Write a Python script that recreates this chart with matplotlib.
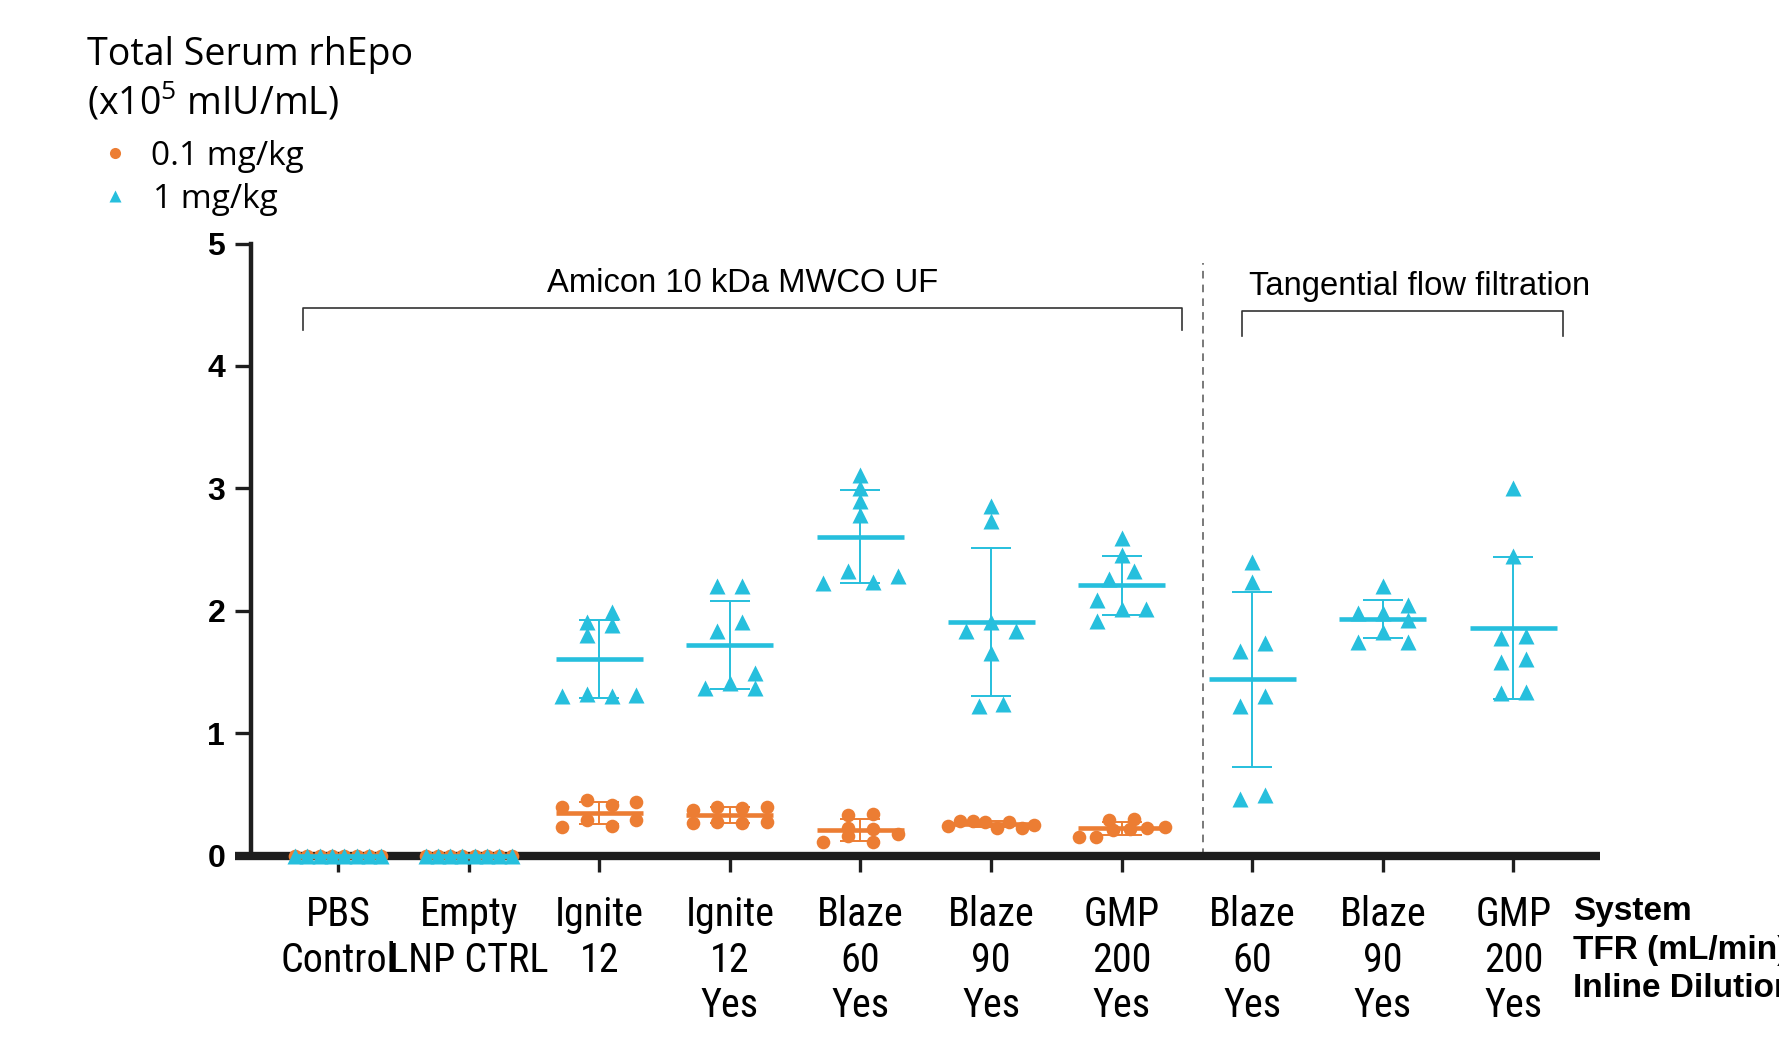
import os
import numpy as np
import matplotlib
matplotlib.use("Agg")
import matplotlib.pyplot as plt
from matplotlib import font_manager
from matplotlib.lines import Line2D
from matplotlib.textpath import TextPath

# ---------------- data ----------------
categories = ["PBS\nControl", "Empty\nLNP CTRL", "Ignite\n12", "Ignite\n12\nYes",
              "Blaze\n60\nYes", "Blaze\n90\nYes", "GMP\n200\nYes",
              "Blaze\n60\nYes", "Blaze\n90\nYes", "GMP\n200\nYes"]

low_dose = [  # 0.1 mg/kg
    [0, 0, 0, 0, 0, 0, 0, 0],
    [0, 0, 0, 0, 0, 0, 0, 0],
    [0.236, 0.29, 0.241, 0.29, 0.399, 0.454, 0.413, 0.44],
    [0.263, 0.276, 0.263, 0.276, 0.372, 0.399, 0.386, 0.399],
    [0.113, 0.16, 0.113, 0.176, 0.222, 0.215, 0.331, 0.339],
    [0.241, 0.282, 0.282, 0.276, 0.222, 0.276, 0.222, 0.249],
    [0.154, 0.154, 0.21, 0.215, 0.222, 0.23, 0.29, 0.295],
]
high_dose = [  # 1 mg/kg
    [0, 0, 0, 0, 0, 0, 0, 0],
    [0, 0, 0, 0, 0, 0, 0, 0],
    [1.30, 1.32, 1.30, 1.31, 1.80, 1.885, 1.91, 1.99],
    [1.367, 1.408, 1.367, 1.49, 1.838, 1.909, 2.198, 2.198],
    [2.226, 2.321, 2.231, 2.28, 2.784, 2.893, 3.002, 3.111],
    [1.222, 1.236, 1.653, 1.838, 1.904, 1.838, 2.735, 2.852],
    [1.917, 2.013, 2.013, 2.089, 2.258, 2.321, 2.457, 2.594],
    [0.459, 0.495, 1.222, 1.304, 1.667, 1.735, 2.231, 2.394],
    [1.748, 1.83, 1.748, 1.98, 1.98, 1.926, 2.048, 2.204],
    [1.326, 1.339, 1.577, 1.604, 1.776, 1.795, 2.443, 3.002],
]
yticks = [0, 1, 2, 3, 4, 5]
group1_label = "Amicon 10 kDa MWCO UF"
group2_label = "Tangential flow filtration"
row_labels = ["System", "TFR (mL/min)", "Inline Dilution"]
legend_labels = ["0.1 mg/kg", "1 mg/kg"]

ORANGE = "#EC7D33"
CYAN = "#26BFDD"
AXC = "#1e1e1e"

# ---------------- fonts ----------------
def has_font(name):
    try:
        font_manager.findfont(font_manager.FontProperties(family=name), fallback_to_default=False)
        return True
    except Exception:
        return False

arial = "Liberation Sans" if has_font("Liberation Sans") else "DejaVu Sans"
segoe = "Open Sans" if has_font("Open Sans") else "DejaVu Sans"

def find_condensed():
    bad = ["bold", "light", "thin", "black", "semi", "medium", "extra", "italic", "oblique", "heavy"]
    found = {}
    for f in font_manager.fontManager.ttflist:
        fn = os.path.basename(f.fname).lower()
        if ("condensed" in fn or "narrow" in fn) and not any(b in fn.replace("condensed", "").replace("narrow", "") for b in bad):
            found[fn] = f.fname
    prefs = ["liberationsansnarrow", "notosans", "opensans", "roboto", "lato", "inter", "dejavusans"]
    for p in prefs:
        for fn, path in sorted(found.items()):
            if fn.replace("-", "").replace("_", "").startswith(p):
                return font_manager.FontProperties(fname=path)
    if found:
        return font_manager.FontProperties(fname=sorted(found.values())[0])
    return font_manager.FontProperties(family="DejaVu Sans", stretch="condensed")

cat_fp = find_condensed()
# size so that "Blaze" is about 80 px wide (condensed face like the reference)
w1 = TextPath((0, 0), "Blaze", size=1, prop=cat_fp).get_extents().width
size_px = min(82.0 / w1, 41.0)
cat_fp.set_size(size_px * 72 / 100)
asc_l = TextPath((0, 0), "lp", size=1, prop=cat_fp).get_extents().y1
cat_linespacing = 0.83 * 44.0 / (asc_l * size_px)

# ---------------- figure ----------------
W, H = 1779, 1037
fig = plt.figure(figsize=(W / 100, H / 100), dpi=100)
ax_left, ax_right = 235, 1600
ax_bot, ax_top = 855.5, 243.5
ax = fig.add_axes([ax_left / W, 1 - ax_bot / H, (ax_right - ax_left) / W, (ax_bot - ax_top) / H])
ax.set_xlim(-0.789, 9.663)
ax.set_ylim(0, 5)

# swarm layout (Prism-like rows)
D = 0.19
MAXHALF = 0.33
HROW = 0.1

def swarm(vals):
    vals = np.asarray(vals, float)
    order = np.argsort(vals, kind="stable")
    rows, cur, start = [], [], None
    for i in order:
        if start is None or vals[i] - start > HROW + 1e-9:
            if cur:
                rows.append(cur)
            cur, start = [i], vals[i]
        else:
            cur.append(i)
    if cur:
        rows.append(cur)
    offs = np.zeros(len(vals))
    placed = []
    for row in rows:
        row = sorted(row)
        n = len(row)
        if n == 1:
            i = row[0]
            for c in [0, D, -D, 2 * D, -2 * D]:
                if all(not (abs(c - px) < 0.9 * D and abs(vals[i] - py) < HROW) for px, py in placed):
                    break
            offs[i] = c
            placed.append((c, vals[i]))
        else:
            sp = D if (n - 1) * D / 2 <= MAXHALF else 2 * MAXHALF / (n - 1)
            for k, i in enumerate(row):
                offs[i] = (k - (n - 1) / 2) * sp
                placed.append((offs[i], vals[i]))
    return offs

def draw_group(series, color, marker, ms, z):
    for xi, vals in enumerate(series):
        vals = np.asarray(vals, float)
        offs = swarm(vals)
        m = vals.mean()
        sd = vals.std(ddof=1)
        ax.errorbar([xi], [m], yerr=[sd], fmt="none", ecolor=color, elinewidth=1.4,
                    capsize=14.4, capthick=1.4, zorder=z, clip_on=False)
        ax.hlines(m, xi - 0.333, xi + 0.333, color=color, lw=3.3, zorder=z, clip_on=False)
        ax.plot(xi + offs, vals, ls="none", marker=marker, ms=ms, color=color,
                mec="none", zorder=z + 1, clip_on=False)

draw_group(low_dose, ORANGE, "o", 9.8, 5)
draw_group(high_dose, CYAN, "^", 11.3, 7)

# spines & ticks
for s in ["top", "right"]:
    ax.spines[s].set_visible(False)
ax.spines["left"].set_position(("data", -0.667))
ax.spines["left"].set_linewidth(3.2)
ax.spines["left"].set_color(AXC)
ax.spines["bottom"].set_linewidth(6)
ax.spines["bottom"].set_color(AXC)
ax.spines["bottom"].set_capstyle("butt")

ax.set_yticks(yticks)
ax.set_yticklabels([str(t) for t in yticks], fontfamily=arial, fontweight="bold", fontsize=23)
ax.tick_params(axis="y", direction="out", length=11.5, width=2.4, color=AXC, pad=7)

ax.set_xticks(range(len(categories)))
ax.set_xticklabels(categories, fontproperties=cat_fp, linespacing=cat_linespacing)
ax.tick_params(axis="x", direction="out", length=11.5, width=2.4, color=AXC, pad=17)

# brackets and separator
bc = "#333333"
ax.plot([-0.269, -0.269, 6.464, 6.464], [4.297, 4.474, 4.474, 4.297], color=bc, lw=1.2, clip_on=False)
ax.plot([6.919, 6.919, 9.377, 9.377], [4.248, 4.447, 4.447, 4.248], color=bc, lw=1.2, clip_on=False)
ax.text(3.1, 4.60, group1_label, ha="center", va="baseline", fontfamily=arial, fontsize=23.6)
ax.text(8.28, 4.58, group2_label, ha="center", va="baseline", fontfamily=arial, fontsize=23.6)
ax.plot([6.622, 6.622], [0, 4.844], color="#555555", lw=1.1, ls=(0, (5, 4)), clip_on=False)

# title
fig.text(87 / W, 1 - 65 / H, "Total Serum rhEpo", fontfamily=segoe, fontsize=27, va="baseline", ha="left")
fig.text(87 / W, 1 - 115 / H, r"(x10$\mathregular{^5}$ mIU/mL)", fontfamily=segoe, fontsize=27,
         va="baseline", ha="left")

# legend (manual)
fig.add_artist(Line2D([115 / W], [1 - 153 / H], marker="o", ls="none", ms=8, color=ORANGE, mec="none",
                      transform=fig.transFigure))
fig.add_artist(Line2D([115 / W], [1 - 196 / H], marker="^", ls="none", ms=9, color=CYAN, mec="none",
                      transform=fig.transFigure))
fig.text(151 / W, 1 - 165 / H, legend_labels[0], fontfamily=segoe, fontsize=24, va="baseline")
fig.text(153 / W, 1 - 208 / H, legend_labels[1], fontfamily=segoe, fontsize=24, va="baseline")

# right-side row labels
for lab, yb in zip(row_labels, [920, 959, 997]):
    fig.text(1573 / W, 1 - yb / H, lab, fontfamily=arial, fontweight="bold", fontsize=24, va="baseline")

fig.savefig("out.png", dpi=100)
